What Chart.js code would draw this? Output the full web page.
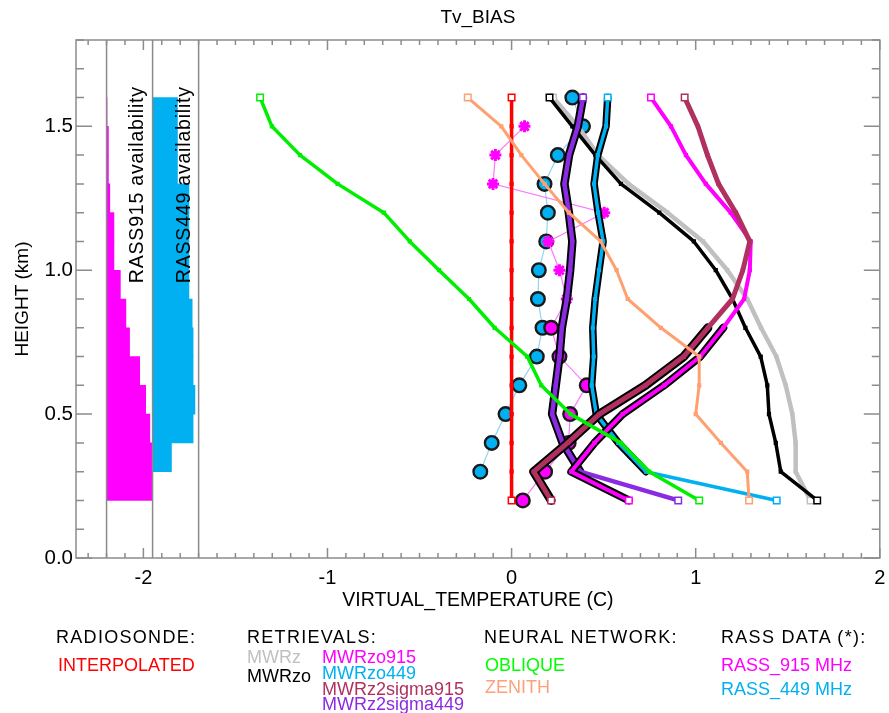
<!DOCTYPE html>
<html>
<head>
<meta charset="utf-8">
<title>Tv_BIAS</title>
<script src="https://cdn.jsdelivr.net/npm/chart.js@4.4.1/dist/chart.umd.min.js"></script>
<style>
  html, body { margin: 0; padding: 0; background: #ffffff; }
  #wrap { position: relative; width: 889px; height: 713px; overflow: hidden; }
  #chart { position: absolute; left: 0; top: 0; }
  .lg { position: absolute; font-family: "Liberation Sans", Arial, sans-serif; font-size: 18px;
        line-height: 18px; white-space: nowrap; color: #000; }
  .hd { letter-spacing: 1.3px; }
</style>
</head>
<body>
<div id="wrap">
  <canvas id="chart" width="889" height="713"></canvas>

  <div class="lg hd" style="left:56px;top:628px;">RADIOSONDE:</div>
  <div class="lg" style="left:58px;top:656px;color:#ff0000;">INTERPOLATED</div>

  <div class="lg hd" style="left:247px;top:628px;">RETRIEVALS:</div>
  <div class="lg" style="left:247px;top:648px;color:#c0c0c0;">MWRz</div>
  <div class="lg" style="left:247px;top:667px;">MWRzo</div>
  <div class="lg" style="left:322px;top:648px;color:#ff00ff;">MWRzo915</div>
  <div class="lg" style="left:322px;top:664px;color:#00b0f0;">MWRzo449</div>
  <div class="lg" style="left:322px;top:680px;color:#b03060;">MWRz2sigma915</div>
  <div class="lg" style="left:322px;top:695px;color:#8a2be2;">MWRz2sigma449</div>

  <div class="lg hd" style="left:484px;top:628px;">NEURAL NETWORK:</div>
  <div class="lg" style="left:485px;top:656px;color:#00ff00;">OBLIQUE</div>
  <div class="lg" style="left:485px;top:678px;color:#ffa07a;">ZENITH</div>

  <div class="lg hd" style="left:721px;top:628px;">RASS DATA (*):</div>
  <div class="lg" style="left:721px;top:656px;color:#ff00ff;">RASS_915 MHz</div>
  <div class="lg" style="left:721px;top:680px;color:#00b0f0;">RASS_449 MHz</div>
</div>

<script>
// ---- profile levels (km) ----
const heights = [0.2, 0.3, 0.4, 0.5, 0.6, 0.7, 0.8, 0.9, 1.0, 1.1, 1.2, 1.3, 1.4, 1.5, 1.6];

// ---- Tv bias profiles (C), one value per level, bottom to top ----
const interpolated  = [0, 0, 0, 0, 0, 0, 0, 0, 0, 0, 0, 0, 0, 0, 0];
const oblique       = [1.019, 0.748, 0.594, 0.320, 0.161, 0.085, -0.092, -0.231, -0.394, -0.553, -0.694, -0.945, -1.149, -1.302, -1.366];
const zenith        = [1.290, 1.280, 1.137, 1.000, 1.019, 1.019, 0.811, 0.631, 0.570, 0.484, 0.311, 0.179, 0.053, -0.056, -0.238];
const mwrz          = [1.624, 1.543, 1.543, 1.525, 1.489, 1.438, 1.355, 1.280, 1.172, 1.040, 0.847, 0.635, 0.470, 0.360, 0.225];
const mwrzo         = [1.660, 1.462, 1.435, 1.398, 1.389, 1.353, 1.270, 1.200, 1.109, 0.990, 0.802, 0.594, 0.455, 0.330, 0.206];
const mwrzo915      = [0.637, 0.324, 0.450, 0.603, 0.829, 1.025, 1.150, 1.263, 1.294, 1.299, 1.190, 1.055, 0.947, 0.866, 0.757];
const mwrzo449      = [1.440, 0.730, 0.580, 0.460, 0.435, 0.446, 0.441, 0.454, 0.475, 0.497, 0.470, 0.448, 0.468, 0.513, 0.522];
const mwrz2sigma915 = [0.215, 0.120, 0.305, 0.477, 0.727, 0.935, 1.066, 1.200, 1.256, 1.294, 1.218, 1.124, 1.064, 1.012, 0.940];
const mwrz2sigma449 = [0.905, 0.373, 0.277, 0.220, 0.240, 0.260, 0.273, 0.300, 0.318, 0.330, 0.311, 0.287, 0.312, 0.360, 0.388];
const rass915       = [0.061, 0.182, 0.310, 0.318, 0.408, 0.260, 0.215, 0.300, 0.260, 0.200, 0.503, -0.101, -0.088, 0.070, null];
const rass449       = [null, -0.170, -0.108, -0.033, 0.042, 0.137, 0.168, 0.143, 0.148, 0.188, 0.197, 0.179, 0.251, 0.388, 0.330];

// ---- RASS availability (%) per 0.1 km layer, layer bottoms 0.2 .. 1.5 km ----
const layerBottoms = [0.2, 0.3, 0.4, 0.5, 0.6, 0.7, 0.8, 0.9, 1.0, 1.1, 1.2, 1.3, 1.4, 1.5];
const avail915     = [98, 98, 94, 85, 72, 50, 42, 30, 16, 16, 7, 4, 4, 1];
const avail449     = [0, 41, 88, 92, 88, 88, 86, 79, 79, 79, 79, 54, 54, 54];

// ---- axes ----
const xTickValues = [-2, -1, 0, 1, 2];
const yTickValues = [0.0, 0.5, 1.0, 1.5];
const availabilityFrames = [-2.2, -1.95, -1.7];

// ---- layout / style constants ----
const X_MIN = -2.366, X_MAX = 2.0, Y_MIN = 0, Y_MAX = 1.8;
const GOOD_AVAIL = 35;              // % availability above which RASS data are trusted
const BAR_915_BASE = -2.2, BAR_449_BASE = -1.95, BAR_FULL_WIDTH = 0.25;
const FONT = "'Liberation Sans', Arial, Helvetica, sans-serif";

const levelAvail = (av, i) => av[Math.min(i, av.length - 1)];
const toPoints = vals => heights.map((h, i) => ({ x: vals[i], y: h }));
const trusted = (vals, av) => vals.map((v, i) => levelAvail(av, i) >= GOOD_AVAIL ? v : null);
const last = heights.length - 1;

function profile(label, vals, color, width, order) {
  return {
    type: 'line', label, order,
    data: toPoints(vals),
    borderColor: color, borderWidth: width,
    borderJoinStyle: 'round', borderCapStyle: 'round',
    pointStyle: 'rect',
    pointRadius: heights.map((h, i) => (i === 0 || i === last) ? 4.6 : 3.0),
    pointBorderWidth: heights.map((h, i) => (i === 0 || i === last) ? 1.5 : 0),
    pointBackgroundColor: heights.map((h, i) => (i === 0 || i === last) ? '#ffffff' : color),
    pointBorderColor: color,
    spanGaps: false
  };
}

function outline(vals, av, width, order) {
  return {
    type: 'line', label: '', order,
    data: toPoints(trusted(vals, av)),
    borderColor: '#000000', borderWidth: width,
    borderJoinStyle: 'round', borderCapStyle: 'round',
    pointRadius: 0, spanGaps: false
  };
}

function rass(label, vals, av, color, thinColor, order) {
  const good = heights.map((h, i) => levelAvail(av, i) >= GOOD_AVAIL);
  return {
    type: 'line', label, order,
    data: toPoints(vals),
    borderColor: thinColor, borderWidth: 1.2,
    pointStyle: good.map(g => g ? 'circle' : 'star'),
    pointRadius: good.map(g => g ? 6.8 : 6.0),
    pointBackgroundColor: color,
    pointBorderColor: good.map(g => g ? '#1a1a1a' : color),
    pointBorderWidth: good.map(g => g ? 2.4 : 3.0),
    spanGaps: false
  };
}

function availabilityBars(av, base, color) {
  return {
    type: 'bar', indexAxis: 'y', order: 100, label: '',
    data: layerBottoms.map((h, i) => av[i] > 0
      ? { y: h + 0.05, x: [base, base + BAR_FULL_WIDTH * av[i] / 100] } : null).filter(Boolean),
    backgroundColor: color, borderWidth: 0,
    barPercentage: 1.0, categoryPercentage: 1.0, grouped: false
  };
}

const frameLines = availabilityFrames.map(v => ({
  type: 'line', label: '', order: 95,
  data: [{ x: v, y: Y_MIN }, { x: v, y: Y_MAX }],
  borderColor: '#8a8a8a', borderWidth: 1.5, pointRadius: 0
}));

// IDL-style box with inward major/minor ticks, plus the rotated availability captions
const framePlugin = {
  id: 'idlFrame',
  afterDraw(chart) {
    const { ctx, chartArea: a, scales: { x, y } } = chart;
    ctx.save();
    ctx.strokeStyle = '#8c8c8c';
    ctx.lineWidth = 1.5;
    ctx.strokeRect(a.left, a.top, a.right - a.left, a.bottom - a.top);
    ctx.beginPath();
    for (let i = Math.ceil(X_MIN * 10); i <= Math.floor(X_MAX * 10); i++) {
      const px = x.getPixelForValue(i / 10);
      const len = (i % 10 === 0) ? 10 : 5;
      ctx.moveTo(px, a.bottom); ctx.lineTo(px, a.bottom - len);
      ctx.moveTo(px, a.top);    ctx.lineTo(px, a.top + len);
    }
    for (let i = Math.ceil(Y_MIN * 10); i <= Math.floor(Y_MAX * 10); i++) {
      const py = y.getPixelForValue(i / 10);
      const len = (i % 5 === 0) ? 16 : 8;
      ctx.moveTo(a.left, py);  ctx.lineTo(a.left + len, py);
      ctx.moveTo(a.right, py); ctx.lineTo(a.right - len, py);
    }
    ctx.stroke();

    ctx.fillStyle = '#000000';
    ctx.font = '19.5px ' + FONT;
    if ('letterSpacing' in ctx) ctx.letterSpacing = '0.8px';
    ctx.textAlign = 'left';
    ctx.textBaseline = 'middle';
    [['RASS915 availability', -2.03], ['RASS449 availability', -1.776]].forEach(([txt, xv]) => {
      ctx.save();
      ctx.translate(x.getPixelForValue(xv), y.getPixelForValue(0.955));
      ctx.rotate(-Math.PI / 2);
      ctx.fillText(txt, 0, 0);
      ctx.restore();
    });
    ctx.restore();
  }
};

// horizontal scales must not reserve extra room for their end labels
const noSidePadding = s => { s.paddingLeft = 0; s.paddingRight = 0; };

Chart.defaults.font.family = FONT;
Chart.defaults.color = '#000000';

new Chart(document.getElementById('chart'), {
  type: 'line',
  data: {
    datasets: [
      availabilityBars(avail915, BAR_915_BASE, '#ff00ff'),
      availabilityBars(avail449, BAR_449_BASE, '#00b0f0'),
      ...frameLines,
      rass('RASS_449 MHz', rass449, avail449, '#00b0f0', '#8fd3f4', 90),
      rass('RASS_915 MHz', rass915, avail915, '#ff00ff', '#ff77ff', 85),
      profile('MWRz', mwrz, '#c0c0c0', 4.5, 80),
      profile('MWRzo', mwrzo, '#000000', 3.5, 75),
      outline(mwrzo449, avail449, 7.5, 70),
      profile('MWRzo449', mwrzo449, '#00b0f0', 3.5, 69),
      outline(mwrz2sigma449, avail449, 8.5, 65),
      profile('MWRz2sigma449', mwrz2sigma449, '#8a2be2', 4.5, 64),
      outline(mwrzo915, avail915, 8, 60),
      profile('MWRzo915', mwrzo915, '#ff00ff', 4, 59),
      outline(mwrz2sigma915, avail915, 9, 55),
      profile('MWRz2sigma915', mwrz2sigma915, '#b03060', 5, 54),
      profile('INTERPOLATED', interpolated, '#ff0000', 3.5, 50),
      profile('ZENITH', zenith, '#ffa070', 3, 45),
      profile('OBLIQUE', oblique, '#00ee00', 3.5, 40)
    ]
  },
  options: {
    responsive: false,
    animation: false,
    events: [],
    layout: { padding: { left: 0, right: 9, top: 0, bottom: 0 } },
    plugins: { legend: { display: false }, tooltip: { enabled: false }, title: { display: false } },
    scales: {
      x: {
        type: 'linear', position: 'bottom', min: X_MIN, max: X_MAX, offset: false,
        grid: { display: false, drawTicks: false },
        border: { display: false },
        afterBuildTicks: s => { s.ticks = xTickValues.map(v => ({ value: v })); },
        afterFit: s => { s.height = 155; noSidePadding(s); },
        ticks: { autoSkip: false, maxRotation: 0, padding: 8, font: { size: 20 },
                 callback: v => String(v) },
        title: { display: true, text: 'VIRTUAL_TEMPERATURE (C)', font: { size: 19.5 },
                 padding: { top: 0, bottom: 100.5 } }
      },
      xTop: {
        type: 'linear', position: 'top', min: X_MIN, max: X_MAX, offset: false,
        grid: { display: false, drawTicks: false },
        border: { display: false },
        ticks: { display: false },
        afterFit: s => { s.height = 40; noSidePadding(s); },
        title: { display: true, text: 'Tv_BIAS', font: { size: 19 }, padding: { top: 6.6, bottom: 0 } }
      },
      y: {
        type: 'linear', position: 'left', min: Y_MIN, max: Y_MAX, offset: false,
        grid: { display: false, drawTicks: false },
        border: { display: false },
        afterBuildTicks: s => { s.ticks = yTickValues.map(v => ({ value: v })); },
        afterFit: s => { s.width = 76; },
        ticks: { autoSkip: false, padding: 3, font: { size: 20.5 }, callback: v => Number(v).toFixed(1) },
        title: { display: true, text: 'HEIGHT (km)', font: { size: 19 }, padding: { top: 11.6, bottom: 0 } }
      }
    }
  },
  plugins: [framePlugin]
});
</script>
</body>
</html>
